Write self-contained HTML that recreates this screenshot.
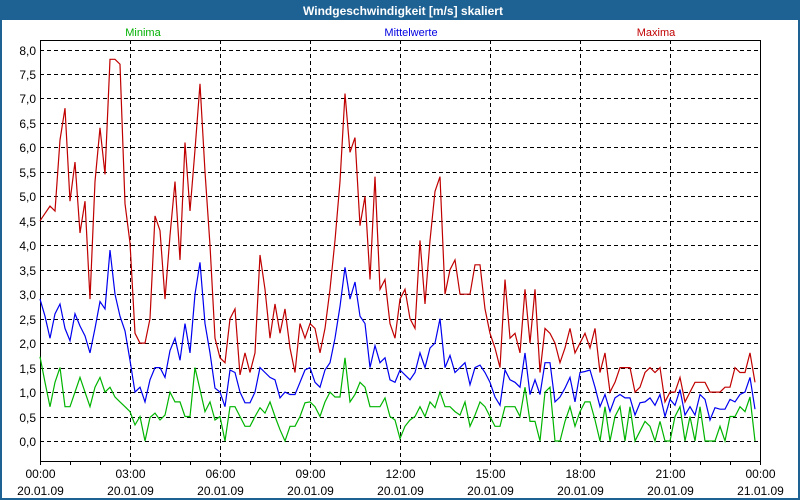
<!DOCTYPE html>
<html><head><meta charset="utf-8"><style>
html,body{margin:0;padding:0;background:#fff}
#wrap{position:relative;width:800px;height:500px;overflow:hidden;font-family:"Liberation Sans",sans-serif}
</style></head><body>
<div id="wrap">
<svg id="chart" width="800" height="500" viewBox="0 0 800 500" xmlns="http://www.w3.org/2000/svg">
<rect x="0" y="0" width="800" height="500" fill="#1e6193"/>
<rect x="2" y="20" width="796" height="478" fill="#ffffff"/>
<text x="403" y="15" text-anchor="middle" fill="#fff" font-weight="bold" font-size="12">Windgeschwindigkeit [m/s] skaliert</text>
<text x="143" y="36" text-anchor="middle" fill="#00b000" font-size="11">Minima</text>
<text x="411" y="36" text-anchor="middle" fill="#0000e0" font-size="11">Mittelwerte</text>
<text x="656" y="36" text-anchor="middle" fill="#c00000" font-size="11">Maxima</text>
<g id="grid"></g>
<g id="axes"></g>
<g id="series"></g>
</svg>
</div>
<script>
const yTicks = [0,0.5,1,1.5,2,2.5,3,3.5,4,4.5,5,5.5,6,6.5,7,7.5,8];
const xTickHours = [0,3,6,9,12,15,18,21,24];
const xTimeLabels = ["00:00","03:00","06:00","09:00","12:00","15:00","18:00","21:00","00:00"];
const xDateLabels = ["20.01.09","20.01.09","20.01.09","20.01.09","20.01.09","20.01.09","20.01.09","20.01.09","21.01.09"];
const stepMinutes = 10;
const minima = [1.72,1.2,0.7,1.2,1.5,0.7,0.7,1.0,1.3,1.0,0.7,1.1,1.3,1.0,1.1,0.9,0.8,0.7,0.6,0.33,0.5,0.0,0.48,0.57,
0.43,0.53,1.0,0.8,0.8,0.5,0.5,1.5,1.05,0.6,0.8,0.43,0.5,0.0,0.7,0.7,0.5,0.3,0.3,0.5,0.68,0.57,0.8,0.5,
0.23,0.0,0.3,0.3,0.5,0.78,0.8,0.7,0.5,0.8,1.0,0.9,0.9,1.7,0.8,0.95,1.2,1.1,0.7,0.7,0.7,0.88,0.5,0.43,
0.05,0.3,0.43,0.5,0.7,0.5,0.8,0.68,1.0,0.7,0.7,0.6,0.53,0.8,0.3,0.53,0.8,0.7,0.5,0.3,0.3,0.7,0.7,0.7,
0.5,1.1,0.4,0.4,0.0,1.0,1.1,0.0,0.0,0.4,0.7,0.3,0.6,0.8,0.8,0.43,0.0,0.7,0.0,0.5,0.7,0.0,0.7,0.0,
0.2,0.4,0.3,0.0,0.4,0.0,0.0,0.5,0.7,0.0,0.5,0.0,0.7,0.0,0.0,0.0,0.3,0.0,0.5,0.5,0.7,0.6,0.9,0.0];
const mittelwerte = [2.9,2.55,2.1,2.6,2.8,2.3,2.05,2.6,2.35,2.15,1.8,2.3,2.85,2.7,3.9,3.0,2.55,2.25,1.65,1.0,1.1,0.8,1.25,1.5,
1.5,1.3,1.85,2.1,1.65,2.4,1.8,3.0,3.65,2.4,1.8,1.08,1.0,0.7,1.45,1.4,1.0,0.78,0.78,1.0,1.5,1.4,1.3,1.25,
0.88,1.0,0.95,0.95,1.2,1.45,1.5,1.2,1.1,1.45,1.6,2.1,2.75,3.55,2.9,3.25,2.55,2.4,1.5,1.95,1.6,1.7,1.25,1.2,
1.45,1.35,1.25,1.4,1.8,1.5,1.9,2.0,2.5,1.5,1.75,1.4,1.5,1.6,1.15,1.5,1.55,1.4,1.2,0.9,0.73,1.45,1.25,1.2,
1.1,1.8,0.95,1.25,0.95,1.6,1.6,0.8,0.9,1.08,1.3,0.8,1.4,1.42,1.45,1.1,0.7,0.95,0.6,0.88,0.95,0.88,0.88,0.53,
0.78,0.8,0.88,0.73,0.95,0.5,0.85,0.73,1.05,0.53,0.7,0.53,0.95,0.85,0.43,0.68,0.65,0.65,0.85,0.8,0.95,1.0,1.3,0.65];
const maxima = [4.5,4.65,4.8,4.7,6.15,6.8,4.9,5.7,4.25,4.9,2.9,5.3,6.4,5.45,7.8,7.8,7.7,4.85,4.05,2.2,2.0,2.0,2.5,4.6,
4.3,2.9,4.2,5.3,3.7,6.1,4.7,5.95,7.3,5.5,4.0,2.1,1.7,1.6,2.5,2.7,1.35,1.8,1.4,1.8,3.8,3.1,2.1,2.8,
2.2,2.7,1.9,1.4,2.4,2.1,2.4,2.3,1.8,2.3,3.1,4.1,5.3,7.1,5.9,6.2,4.4,5.0,3.3,5.4,3.1,3.3,2.4,2.1,
2.9,3.1,2.5,2.3,4.1,2.8,4.1,5.1,5.4,3.0,3.5,3.7,3.0,3.0,3.0,3.6,3.6,2.7,2.2,1.9,1.5,3.3,2.1,2.2,
1.8,3.1,2.0,3.1,1.4,2.3,2.2,2.0,1.6,1.9,2.3,1.8,2.0,2.2,1.9,2.3,1.4,1.8,1.0,1.2,1.5,1.5,1.5,1.0,
1.1,1.4,1.5,1.4,1.5,0.8,1.0,1.0,1.3,0.8,1.0,1.2,1.2,1.2,1.0,1.0,1.0,1.1,1.1,1.5,1.4,1.4,1.8,1.2];

const NS="http://www.w3.org/2000/svg";
const PL=40, PR=760, PT=40, PB=461;
const Y0=441, Y8=49.5;
function xScale(h){return PL+(PR-PL)*h/24;}
function yScale(v){return Y0+(Y8-Y0)*v/8;}
function mk(tag,attrs,parent){const e=document.createElementNS(NS,tag);for(const k in attrs)e.setAttribute(k,attrs[k]);parent.appendChild(e);return e;}
const grid=document.getElementById('grid'), axes=document.getElementById('axes'), series=document.getElementById('series');

yTicks.forEach(v=>{
  const y=Math.round(yScale(v))+0.5;
  const l=mk('line',{x1:PL,x2:PR,y1:y,y2:y,stroke:'#000','stroke-dasharray':'4,3','stroke-width':1},grid);
  
  
  const t=mk('text',{x:36,y:y+4.5,'text-anchor':'end','font-size':12,fill:'#000'},axes);
  t.textContent=v.toFixed(1).replace('.',',');
  
  
});
xTickHours.forEach((h,i)=>{
  const x=Math.round(xScale(h))+0.5;
  if(h>0&&h<24){
    const l=mk('line',{x1:x,x2:x,y1:PT,y2:PB,stroke:'#000','stroke-dasharray':'4,3','stroke-width':1},grid);
    
    
  }
  const t1=mk('text',{x:x,y:478,'text-anchor':'middle','font-size':12,fill:'#000'},axes);
  t1.textContent=xTimeLabels[i];
  
  
  const t2=mk('text',{x:x,y:495,'text-anchor':'middle','font-size':12,fill:'#000'},axes);
  t2.textContent=xDateLabels[i];
  
  
});
for(let h=0;h<=24;h++){
  const x=Math.round(xScale(h))+0.5;
  const l=mk('line',{x1:x,x2:x,y1:PB,y2:PB+4,stroke:'#000'},axes);
  
  
}
const frame=mk('path',{d:`M${PL+0.5},${PT+0.5}H${PR+0.5}V${PB+0.5}H${PL+0.5}Z`,fill:'none',stroke:'#000','stroke-width':1},axes);



function drawSeries(data,color,name){
  const pts=data.map((v,i)=>xScale(i*stepMinutes/60).toFixed(1)+','+yScale(v).toFixed(1)).join(' ');
  const p=mk('polyline',{points:pts,fill:'none',stroke:color,'stroke-width':1.2,'stroke-linejoin':'miter'},series);
  
  
}
drawSeries(minima,'#00b400','series-minima');
drawSeries(mittelwerte,'#0000f0','series-mittelwerte');
drawSeries(maxima,'#c00000','series-maxima');
</script>
</body></html>
